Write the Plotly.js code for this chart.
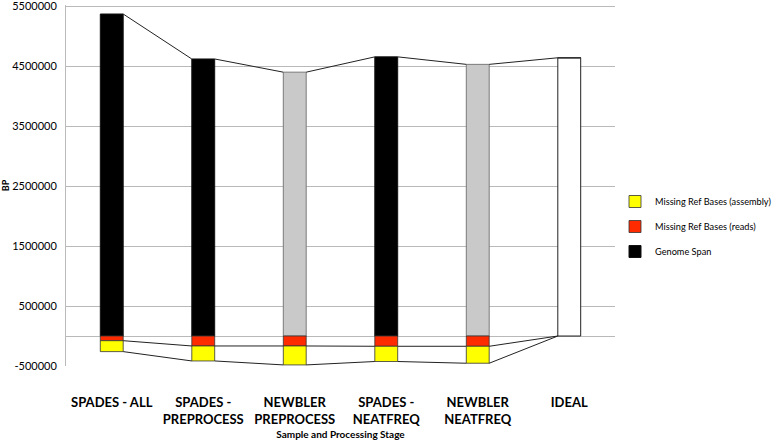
<!DOCTYPE html>
<html>
<head>
<meta charset="utf-8">
<script src="https://cdn.plot.ly/plotly-3.0.1.min.js"></script>
<style>
  html, body { margin: 0; padding: 0; background: #fff; }
  #chart { width: 778px; height: 444px; }
</style>
</head>
<body>
<div id="chart"></div>
<script>
// Stages along the x axis (line breaks as in the original labels).
const stages = [
  "SPADES - ALL",
  "SPADES -<br>PREPROCESS",
  "NEWBLER<br>PREPROCESS",
  "SPADES -<br>NEATFREQ",
  "NEWBLER<br>NEATFREQ",
  "IDEAL",
];

// Values in BP.
const genomeSpan      = [5370000, 4620000, 4400000, 4655000, 4530000, 4640000];
const missingReads    = [78000, 166000, 166000, 171000, 171000, 0];      // drawn below zero
const missingAssembly = [182000, 250000, 316000, 254000, 283000, 0];     // stacked under reads

// Y tick labels (plain hyphen, as in the original).
const yTicks     = [-500000, 500000, 1500000, 2500000, 3500000, 4500000, 5500000];
const yTickText  = ["-500000", "500000", "1500000", "2500000", "3500000", "4500000", "5500000"];

const spanColors = ["#000000", "#000000", "#c9c9c9", "#000000", "#c9c9c9", "#ffffff"];
const spanLines  = ["#111111", "#111111", "#7a7a7a", "#111111", "#7a7a7a", "#222222"];

const BAR_W = 0.25;
const xs = stages.map((_, i) => i);

// Excel-style series lines: right edge of one bar to left edge of the next.
function seriesLine(levels) {
  const x = [], y = [];
  for (let i = 0; i < levels.length - 1; i++) {
    x.push(i + BAR_W / 2, i + 1 - BAR_W / 2, null);
    y.push(levels[i], levels[i + 1], null);
  }
  return {
    type: "scatter", mode: "lines", x, y,
    line: { color: "#222", width: 1 },
    showlegend: false, hoverinfo: "skip", cliponaxis: false,
  };
}

const readsLevel    = missingReads.map(v => -v);
const assemblyLevel = missingReads.map((v, i) => -(v + missingAssembly[i]));

const data = [
  {
    type: "bar", name: "Genome Span", x: xs, y: genomeSpan, width: BAR_W,
    marker: { color: spanColors, line: { color: spanLines, width: 1 } },
    legendgroup: "g", legendrank: 3,
  },
  {
    type: "bar", name: "Missing Ref Bases (reads)", x: xs, y: readsLevel, width: BAR_W,
    marker: { color: "#ff2b00", line: { color: "#333", width: 0.8 } },
    legendgroup: "r", legendrank: 2,
  },
  {
    type: "bar", name: "Missing Ref Bases (assembly)", x: xs,
    y: missingAssembly.map(v => -v), width: BAR_W,
    marker: { color: "#ffff00", line: { color: "#333", width: 0.8 } },
    legendgroup: "a", legendrank: 1,
  },
  seriesLine(genomeSpan),
  seriesLine(readsLevel),
  seriesLine(assemblyLevel),
];

const layout = {
  width: 778, height: 444,
  paper_bgcolor: "#fff", plot_bgcolor: "#fff",
  font: { family: "Lato, 'Liberation Sans', sans-serif", color: "#000", size: 11 },
  margin: { l: 66, r: 163, t: 5, b: 78 },
  barmode: "relative",
  showlegend: true,
  legend: {
    xref: "container", yref: "container",
    x: 615 / 778, xanchor: "left", y: 1 - 187 / 444, yanchor: "top",
    traceorder: "grouped", tracegroupgap: 6,
    font: { size: 9.2, color: "#000" },
    bgcolor: "rgba(0,0,0,0)",
  },
  xaxis: {
    range: [-0.5, 5.5],
    tickmode: "array", tickvals: xs, ticktext: stages,
    ticks: "outside", ticklen: 24, tickcolor: "rgba(0,0,0,0)",
    tickfont: { size: 13, family: "Lato, sans-serif", weight: "bold" },
    showgrid: false, zeroline: false, showline: false,
    title: {
      text: "<b>Sample and Processing Stage</b>",
      font: { size: 10 }, standoff: 5,
    },
    automargin: false, fixedrange: true,
  },
  yaxis: {
    range: [-500000, 5520000],
    tickmode: "array", tickvals: yTicks, ticktext: yTickText,
    ticks: "outside", ticklen: 6, tickcolor: "rgba(0,0,0,0)",
    tickfont: { size: 11 },
    ticklabeloverflow: "allow",
    showgrid: true, gridcolor: "#b9b9b9", gridwidth: 1,
    zeroline: true, zerolinecolor: "#b9b9b9", zerolinewidth: 1,
    showline: true, linecolor: "#b9b9b9", linewidth: 1,
    title: { text: "<b>BP</b>", font: { size: 9 }, standoff: 4 },
    automargin: false, fixedrange: true,
  },
};

Plotly.newPlot("chart", data, layout, { displayModeBar: false, staticPlot: true });
</script>
</body>
</html>
